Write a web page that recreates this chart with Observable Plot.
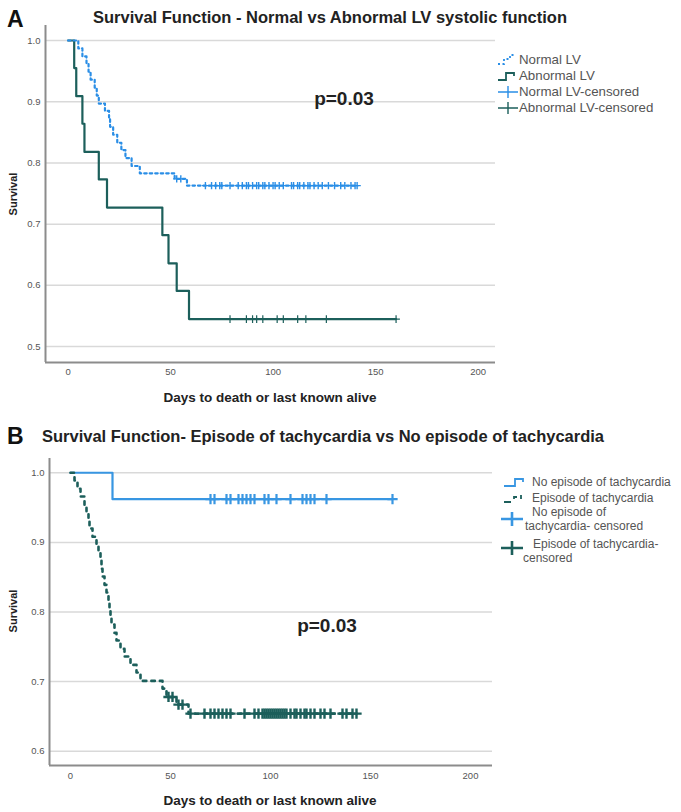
<!DOCTYPE html>
<html><head><meta charset="utf-8">
<script src="https://cdn.jsdelivr.net/npm/d3@7"></script>
<script src="https://cdn.jsdelivr.net/npm/@observablehq/plot@0.6"></script>
<style>
body{margin:0;background:#fff;font-family:"Liberation Sans",Arial,sans-serif;}
#root{position:relative;width:681px;height:812px;overflow:hidden;background:#fff;}
.abs{position:absolute;white-space:nowrap;line-height:1;}
.c{transform:translate(-50%,-50%);}
.l{transform:translate(0,-50%);}
.panel{font-weight:bold;font-size:23px;color:#111;}
.title{font-weight:bold;font-size:16.5px;color:#222;}
.pval{font-weight:bold;font-size:19px;color:#222;}
.xlab{font-weight:bold;font-size:13.5px;color:#222;}
.ylab{font-weight:bold;font-size:11px;color:#222;transform:translate(-50%,-50%) rotate(-90deg);}
.leg{font-size:13.3px;color:#555;}
.legB{font-size:12px;color:#555;}
svg.sw{position:absolute;overflow:visible;}
</style></head>
<body><div id="root"></div>
<script>
// ---------- Data ----------
// Panel A: Normal LV (event times / survival after each step)
const normalTimes = [0, 5, 7, 9, 10, 11, 13, 14, 15, 18, 20, 20.5, 22, 24, 26, 28, 31, 35, 52, 58];
const normalSurv  = [1, 0.987, 0.974, 0.962, 0.949, 0.936, 0.923, 0.910, 0.897, 0.885, 0.872, 0.859, 0.846, 0.833, 0.821, 0.808, 0.795, 0.783, 0.774, 0.763];
const normalEnd = 141;
const normalCensored = [53, 55, 67, 70, 72, 74, 75, 79, 83, 85, 87, 88, 90, 92, 93, 95, 96, 98, 100, 101, 103, 105, 109, 110, 112, 113, 115, 117, 118, 120, 122, 124, 127, 130, 133, 135, 138, 140, 141];
// Panel A: Abnormal LV
const abnormalTimes = [0, 3, 4, 7, 8, 15, 19, 46, 49, 53, 59];
const abnormalSurv  = [1, 0.955, 0.909, 0.864, 0.818, 0.773, 0.727, 0.682, 0.636, 0.591, 0.545];
const abnormalEnd = 160;
const abnormalCensored = [79, 87, 90, 92, 95, 102, 105, 112, 116, 126, 160];
// Panel B: No episode of tachycardia
const noEpTimes = [0, 21];
const noEpSurv  = [1, 0.962];
const noEpEnd = 161;
const noEpCensored = [70, 72, 78, 80, 84, 86, 88, 90, 92, 97, 99, 103, 110, 116, 118, 120, 122, 128, 161];
// Panel B: Episode of tachycardia
const epTimes = [0, 2, 3.5, 5, 7, 8, 9, 9.5, 11, 13, 14, 15, 15.5, 16, 17, 18, 19, 19.5, 20, 20.5, 22, 23, 25, 27, 30, 33, 35, 46, 48, 53, 59];
const epSurv  = [1, 0.989, 0.977, 0.966, 0.954, 0.943, 0.931, 0.920, 0.908, 0.897, 0.885, 0.874, 0.862, 0.851, 0.839, 0.828, 0.816, 0.805, 0.793, 0.782, 0.770, 0.759, 0.747, 0.736, 0.724, 0.713, 0.701, 0.690, 0.678, 0.667, 0.654];
const epEnd = 143;
const epCensored = [49, 51, 54, 56, 60, 67, 70, 72, 74, 76, 78, 80, 87, 92, 94, 96, 97, 98, 99, 100, 101, 102, 103, 104, 105, 106, 107, 108, 110, 112, 113, 115, 117, 118, 120, 122, 125, 127, 130, 136, 138, 141, 143];
// Axis ticks
const xTicks = [0, 50, 100, 150, 200];
const yTicksA = [0.5, 0.6, 0.7, 0.8, 0.9, 1.0];
const yTicksB = [0.6, 0.7, 0.8, 0.9, 1.0];
const xDomainA = [-11, 208.5], yDomainA = [0.474, 1.0245];
const xDomainB = [-10.5, 211], yDomainB = [0.5795, 1.0205];

// ---------- helpers ----------
function stepLine(times, surv, end){
  const pts = times.map((t,i)=>({t, s: surv[i]}));
  pts.push({t:end, s: surv[surv.length-1]});
  return pts;
}
function survAt(times, surv, t){
  let s = surv[0];
  for (let i=0;i<times.length;i++) if (times[i] <= t) s = surv[i];
  return s;
}
function censorPts(cens, times, surv){ return cens.map(t=>({t, s: survAt(times, surv, t)})); }

const FONT = '"Liberation Sans", Arial, sans-serif';
const AXIS = "#8c8c8c", GRID = "#d9d9d9";
const BLUE_A = "#2a8ee6", TEAL = "#1c5f5b", BLUE_B = "#3896e2";

function panel(opts){
  return Plot.plot({
    width: 500, height: opts.height,
    marginLeft: opts.ml, marginRight: opts.mr, marginTop: opts.mt, marginBottom: opts.mb,
    x: {domain: opts.xd}, y: {domain: opts.yd},
    style: {fontFamily: FONT, fontSize: "9.5px", color: "#555", background: "transparent"},
    marks: [
      Plot.gridY(opts.yt, {stroke: GRID, strokeOpacity: 1, strokeWidth: 1.5}),
      Plot.axisX(xTicks, {tickSize: 0, tickPadding: opts.xpad, label: null, tickFormat: d => String(d)}),
      Plot.axisY(opts.yt, {tickSize: 0, tickPadding: 5, label: null, tickFormat: d3.format(".1f")}),
      Plot.ruleX([opts.xd[0]], {stroke: AXIS, strokeWidth: 2}),
      Plot.ruleY([opts.yd[0]], {stroke: AXIS, strokeWidth: 2}),
      ...opts.marks
    ]
  });
}

const root = document.getElementById("root");

const plotA = panel({
  height: 410, ml: 45, mr: 5, mt: 25, mb: 48, xd: xDomainA, yd: yDomainA, yt: yTicksA, xpad: 6,
  marks: [
    Plot.line(stepLine(abnormalTimes, abnormalSurv, abnormalEnd), {x:"t", y:"s", curve:"step-after", stroke: TEAL, strokeWidth: 2.2}),
    Plot.line(stepLine(normalTimes, normalSurv, normalEnd), {x:"t", y:"s", curve:"step-after", stroke: BLUE_A, strokeWidth: 2.2, strokeDasharray: "2.5,3"}),
    Plot.dot(censorPts(abnormalCensored, abnormalTimes, abnormalSurv), {x:"t", y:"s", symbol:"plus", r: 2.6, stroke: TEAL, strokeWidth: 1.2}),
    Plot.dot(censorPts(normalCensored, normalTimes, normalSurv), {x:"t", y:"s", symbol:"plus", r: 2.5, stroke: BLUE_A, strokeWidth: 1.4})
  ]
});
plotA.style.position = "absolute"; plotA.style.left = "0px"; plotA.style.top = "0px";
root.appendChild(plotA);

const plotB = panel({
  height: 372, ml: 49, mr: 8, mt: 18, mb: 47, xd: xDomainB, yd: yDomainB, yt: yTicksB, xpad: 7,
  marks: [
    Plot.line(stepLine(noEpTimes, noEpSurv, noEpEnd), {x:"t", y:"s", curve:"step-after", stroke: BLUE_B, strokeWidth: 2.2}),
    Plot.line(stepLine(epTimes, epSurv, epEnd), {x:"t", y:"s", curve:"step-after", stroke: TEAL, strokeWidth: 2.6, strokeDasharray: "3.5,5"}),
    Plot.dot(censorPts(noEpCensored, noEpTimes, noEpSurv), {x:"t", y:"s", symbol:"plus", r: 3.4, stroke: BLUE_B, strokeWidth: 2.2}),
    Plot.dot(censorPts(epCensored, epTimes, epSurv), {x:"t", y:"s", symbol:"plus", r: 3.4, stroke: TEAL, strokeWidth: 2.4})
  ]
});
plotB.style.position = "absolute"; plotB.style.left = "0px"; plotB.style.top = "440px";
root.appendChild(plotB);

// ---------- text ----------
function txt(cls, s, x, y){
  const d = document.createElement("div");
  d.className = "abs " + cls; d.textContent = s;
  d.style.left = x + "px"; d.style.top = y + "px";
  root.appendChild(d); return d;
}
txt("panel l", "A", 7, 19);
txt("title c", "Survival Function - Normal vs Abnormal LV systolic function", 330, 17);
txt("pval c", "p=0.03", 344, 98);
txt("xlab c", "Days to death or last known alive", 270, 398);
txt("ylab", "Survival", 13, 194);

txt("panel l", "B", 7, 436);
txt("title c", "Survival Function- Episode of tachycardia vs No episode of tachycardia", 323, 436);
txt("pval c", "p=0.03", 327, 625);
txt("xlab c", "Days to death or last known alive", 270, 801);
txt("ylab", "Survival", 13, 611);

// ---------- legends ----------
function swatch(x, y, w, h, inner){
  const ns = "http://www.w3.org/2000/svg";
  const s = document.createElementNS(ns, "svg");
  s.setAttribute("class", "sw"); s.setAttribute("width", w); s.setAttribute("height", h);
  s.style.left = x + "px"; s.style.top = y + "px";
  s.innerHTML = inner; root.appendChild(s);
}
// Legend A
swatch(497, 53, 22, 14, `<path d="M1,11 H7 V6 H13 V2 H18" fill="none" stroke="${BLUE_A}" stroke-width="1.8" stroke-dasharray="2,2.5"/>`);
txt("leg l", "Normal LV", 519, 60);
swatch(497, 69, 22, 14, `<path d="M1,11 H9 V4 H17 V7" fill="none" stroke="${TEAL}" stroke-width="1.8"/>`);
txt("leg l", "Abnormal LV", 519, 76);
swatch(497, 85, 22, 14, `<path d="M1,7 H21 M11,1 V13" fill="none" stroke="${BLUE_A}" stroke-width="1.4"/>`);
txt("leg l", "Normal LV-censored", 519, 92);
swatch(497, 101, 22, 14, `<path d="M1,7 H21 M11,1 V13" fill="none" stroke="${TEAL}" stroke-width="1.4"/>`);
txt("leg l", "Abnormal LV-censored", 519, 108);
// Legend B
swatch(503, 475, 22, 14, `<path d="M1,11 H12 V4 H20 V7" fill="none" stroke="${BLUE_B}" stroke-width="1.8"/>`);
txt("legB l", "No episode of tachycardia", 532, 482);
swatch(503, 491, 22, 14, `<path d="M1,11 H8 M11,8 V6 H14 M18,4 V8" fill="none" stroke="${TEAL}" stroke-width="1.8"/>`);
txt("legB l", "Episode of tachycardia", 532, 498);
swatch(501, 511, 24, 16, `<path d="M0,8 H22 M11,1 V15" fill="none" stroke="${BLUE_B}" stroke-width="2.6"/>`);
txt("legB l", "No episode of", 532, 512);
txt("legB l", "tachycardia- censored", 525, 526);
swatch(501, 540, 24, 16, `<path d="M0,8 H22 M11,1 V15" fill="none" stroke="${TEAL}" stroke-width="2.6"/>`);
txt("legB l", "Episode of tachycardia-", 533, 544);
txt("legB l", "censored", 523, 558);
</script>
</body></html>
